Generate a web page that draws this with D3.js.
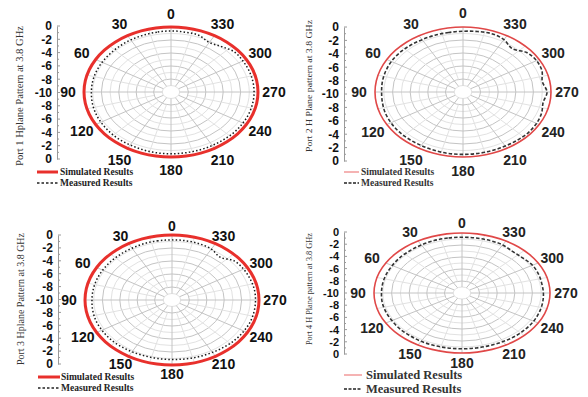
<!DOCTYPE html>
<html><head><meta charset="utf-8">
<script src="https://cdn.jsdelivr.net/npm/d3@7"></script>
<style>html,body{margin:0;padding:0;background:#fff;} svg{display:block}</style>
</head><body>
<svg id="c" width="588" height="397"></svg>
<script>
// ---------- data ----------
const angles = [0,10,20,30,40,50,60,70,80,90,100,110,120,130,140,150,160,170,
                180,190,200,210,220,230,240,250,260,270,280,290,300,310,320,330,340,350];
const simulated1 = [0,0,0,0,0,0,0,0,0,0,0,0,0,0,0,0,0,0,0,0,0,0,0,0,0,0,0,0,0,0,0,0,0,0,0,0];
const simulated2 = [0,0,0,0,0,0,0,0,0,0,0,0,0,0,0,0,0,0,0,0,0,0,0,0,0,0,0,0,0,0,0,0,0,0,0,0];
const simulated3 = [0,0,0,0,0,0,0,0,0,0,0,0,0,0,0,0,0,0,0,0,0,0,0,0,0,0,0,0,0,0,0,0,0,0,0,0];
const simulated4 = [0,0,0,0,0,0,0,0,0,0,0,0,0,0,0,0,0,0,0,0,0,0,0,0,0,0,0,0,0,0,0,0,0,0,0,0];
const measured1 = [-0.6,-0.65,-0.7,-0.75,-0.8,-0.85,-0.85,-0.85,-0.85,-0.85,-0.8,-0.75,-0.7,-0.65,-0.6,-0.6,-0.55,-0.5,
                   -0.5,-0.5,-0.5,-0.5,-0.5,-0.45,-0.45,-0.45,-0.45,-0.45,-0.45,-0.45,-0.45,-0.45,-0.9,-1.2,-0.7,-0.65];
const measured2 = [-0.65,-0.7,-0.7,-0.7,-0.65,-0.6,-0.6,-0.65,-0.7,-0.75,-0.7,-0.6,-0.55,-0.5,-0.5,-0.5,-0.45,-0.4,
                   -0.4,-0.4,-0.4,-0.4,-0.35,-0.3,-0.35,-0.5,-0.75,-0.45,-0.85,-0.45,-0.35,-0.55,-1.3,-0.7,-0.45,-0.55];
const measured3 = [-0.75,-0.75,-0.75,-0.8,-0.8,-0.8,-0.8,-0.8,-0.8,-0.8,-0.75,-0.7,-0.7,-0.7,-0.75,-0.8,-0.85,-0.85,
                   -0.85,-0.8,-0.75,-0.7,-0.6,-0.5,-0.45,-0.4,-0.4,-0.4,-0.4,-0.45,-0.5,-0.65,-1.4,-0.95,-0.8,-0.75];
const measured4 = [-0.7,-0.7,-0.7,-0.75,-0.8,-0.8,-0.85,-0.85,-0.85,-0.85,-0.8,-0.8,-0.8,-0.75,-0.75,-0.7,-0.7,-0.7,
                   -0.7,-0.7,-0.7,-0.65,-0.6,-0.6,-0.6,-0.65,-0.7,-0.75,-0.8,-0.75,-0.75,-0.95,-1.0,-0.75,-0.7,-0.7];
const axisTickLabels = ["0","-2","-4","-6","-8","-10","-8","-6","-4","-2","0"];
const angleTicks = [0,30,60,90,120,150,180,210,240,270,300,330];
const angleLabels = ["0","30","60","90","120","150","180","210","240","270","300","330"];
const titles = ["Port 1 Hplane Pattern at 3.8 GHz","Port 2 H Plane pattern at 3.8 GHz",
                "Port 3 Hplane Pattern at 3.8 GHz","Port 4 H Plane pattern at 3.8 GHz"];
const legendLabels = ["Simulated Results","Measured Results"];

// ---------- layout ----------
const panels = [
 {sim:simulated1, meas:measured1, title:titles[0], cx:171, cy:92, rx:87, ry:65, lx:16, ly:13,
  axisX:57, axisTop:26, axisBot:159, axisFont:12, titleX:19, titleY:96, titleLen:140, titleSize:10,
  legX1:37, legX2:58, legTX:60, legY1:172, legY2:183, legSize:9.5, style:"A"},
 {sim:simulated2, meas:measured2, title:titles[1], cx:463, cy:92, rx:88, ry:65, lx:16, ly:14,
  axisX:344, axisTop:27, axisBot:161, axisFont:12, titleX:309, titleY:86, titleLen:132, titleSize:9,
  legX1:344, legX2:359, legTX:361, legY1:172, legY2:183, legSize:9.5, style:"B"},
 {sim:simulated3, meas:measured3, title:titles[2], cx:172, cy:300, rx:87, ry:65, lx:16, ly:9,
  axisX:58, axisTop:235, axisBot:364, axisFont:12, titleX:20, titleY:299, titleLen:132, titleSize:10,
  legX1:38, legX2:60, legTX:61, legY1:377, legY2:388, legSize:9.5, style:"A"},
 {sim:simulated4, meas:measured4, title:titles[3], cx:462, cy:293, rx:88, ry:60, lx:16, ly:10,
  axisX:344, axisTop:232, axisBot:354, axisFont:11, titleX:309, titleY:289, titleLen:112, titleSize:8.5,
  legX1:344, legX2:362, legTX:366, legY1:375, legY2:389, legSize:12.5, style:"B"}
];

const svg = d3.select("#c");
const rScale = d3.scaleLinear().domain([-10, 0]).range([0, 1]);
const aScale = d3.scaleLinear().domain([0, 360]).range([0, 2 * Math.PI]);
const SANS = "'Liberation Sans', Arial, sans-serif";
const SERIF = "'Liberation Serif', 'Times New Roman', serif";

panels.forEach(p => {
  const g = svg.append("g");
  const px = (v, a) => p.cx - p.rx * rScale(v) * Math.sin(aScale(a));
  const py = (v, a) => p.cy - p.ry * rScale(v) * Math.cos(aScale(a));

  // grid rings
  d3.range(-9, 0, 1).forEach(v => {
    g.append("ellipse").attr("cx", p.cx).attr("cy", p.cy)
      .attr("rx", p.rx * rScale(v)).attr("ry", p.ry * rScale(v))
      .attr("fill", "none")
      .attr("stroke", (v % 2 === 0) ? "#c4c4c4" : "#e2e2e2")
      .attr("stroke-width", 1);
  });
  // light spokes every 15°
  d3.range(15, 360, 30).forEach(a => {
    g.append("line").attr("x1", px(-8, a)).attr("y1", py(-8, a))
      .attr("x2", px(0, a)).attr("y2", py(0, a))
      .attr("stroke", "#e2e2e2").attr("stroke-width", 1);
  });
  // main spokes
  angleTicks.forEach(a => {
    g.append("line").attr("x1", px(-9, a)).attr("y1", py(-9, a))
      .attr("x2", px(0, a)).attr("y2", py(0, a))
      .attr("stroke", "#c4c4c4").attr("stroke-width", 1);
  });

  // angle labels
  angleTicks.forEach((a, i) => {
    g.append("text")
      .attr("x", p.cx - (p.rx + p.lx) * Math.sin(aScale(a)))
      .attr("y", p.cy - (p.ry + p.ly) * Math.cos(aScale(a)))
      .attr("text-anchor", "middle").attr("dominant-baseline", "central")
      .attr("font-family", SANS).attr("font-weight", "bold").attr("font-size", 14)
      .attr("fill", p.style === "A" ? "#111" : "#222")
      .text(angleLabels[i]);
  });

  // series
  const line = (arr) => d3.line()
    .x((d, i) => px(d, angles[i])).y((d, i) => py(d, angles[i]))
    .curve(d3.curveCatmullRomClosed)(arr);

  g.append("path").attr("d", line(p.sim)).attr("fill", "none")
    .attr("stroke", p.style === "A" ? "#e8302c" : "#e04848")
    .attr("stroke-width", p.style === "A" ? 3 : 1.6);
  g.append("path").attr("d", line(p.meas)).attr("fill", "none")
    .attr("stroke", p.style === "A" ? "#1a1a1a" : "#333")
    .attr("stroke-width", p.style === "A" ? 1.5 : 1.6)
    .attr("stroke-dasharray", p.style === "A" ? "1.5,2.2" : "3.5,2");

  // left axis
  const ys = d3.scaleLinear().domain([0, 20]).range([p.axisTop, p.axisBot]);
  const ax = g.append("g").attr("transform", `translate(${p.axisX},0)`)
    .call(d3.axisLeft(ys).tickValues(d3.range(0, 21, 2))
      .tickFormat((d, i) => axisTickLabels[i]).tickSize(0).tickPadding(5));
  ax.select(".domain").attr("stroke", "#9a9a9a").attr("stroke-width", 1);
  ax.selectAll("text").attr("font-family", SANS).attr("font-weight", "bold")
    .attr("font-size", p.axisFont).attr("fill", "#111");
  d3.range(0, 21, 1).forEach(t => {
    ax.append("line").attr("x1", 0).attr("x2", t % 2 === 0 ? 3 : 2)
      .attr("y1", ys(t)).attr("y2", ys(t)).attr("stroke", "#9a9a9a");
  });

  // rotated title
  g.append("text")
    .attr("transform", `translate(${p.titleX},${p.titleY}) rotate(-90)`)
    .attr("text-anchor", "middle").attr("dominant-baseline", "central")
    .attr("font-family", SERIF).attr("font-size", p.titleSize)
    .attr("fill", "#333")
    .attr("textLength", p.titleLen).attr("lengthAdjust", "spacingAndGlyphs")
    .text(p.title);

  // legend
  g.append("line").attr("x1", p.legX1).attr("x2", p.legX2)
    .attr("y1", p.legY1).attr("y2", p.legY1)
    .attr("stroke", p.style === "A" ? "#e8302c" : "#f29a9a")
    .attr("stroke-width", p.style === "A" ? 3 : 1.5);
  g.append("line").attr("x1", p.legX1).attr("x2", p.legX2)
    .attr("y1", p.legY2).attr("y2", p.legY2)
    .attr("stroke", "#222").attr("stroke-width", 1.3)
    .attr("stroke-dasharray", p.style === "A" ? "2.5,2" : "3,1.5");
  [p.legY1, p.legY2].forEach((y, i) => {
    g.append("text").attr("x", p.legTX).attr("y", y)
      .attr("dominant-baseline", "central")
      .attr("font-family", SERIF).attr("font-weight", "bold")
      .attr("font-size", p.legSize).attr("fill", p.style === "A" ? "#222" : "#333")
      .text(legendLabels[i]);
  });
});
</script>
</body></html>
